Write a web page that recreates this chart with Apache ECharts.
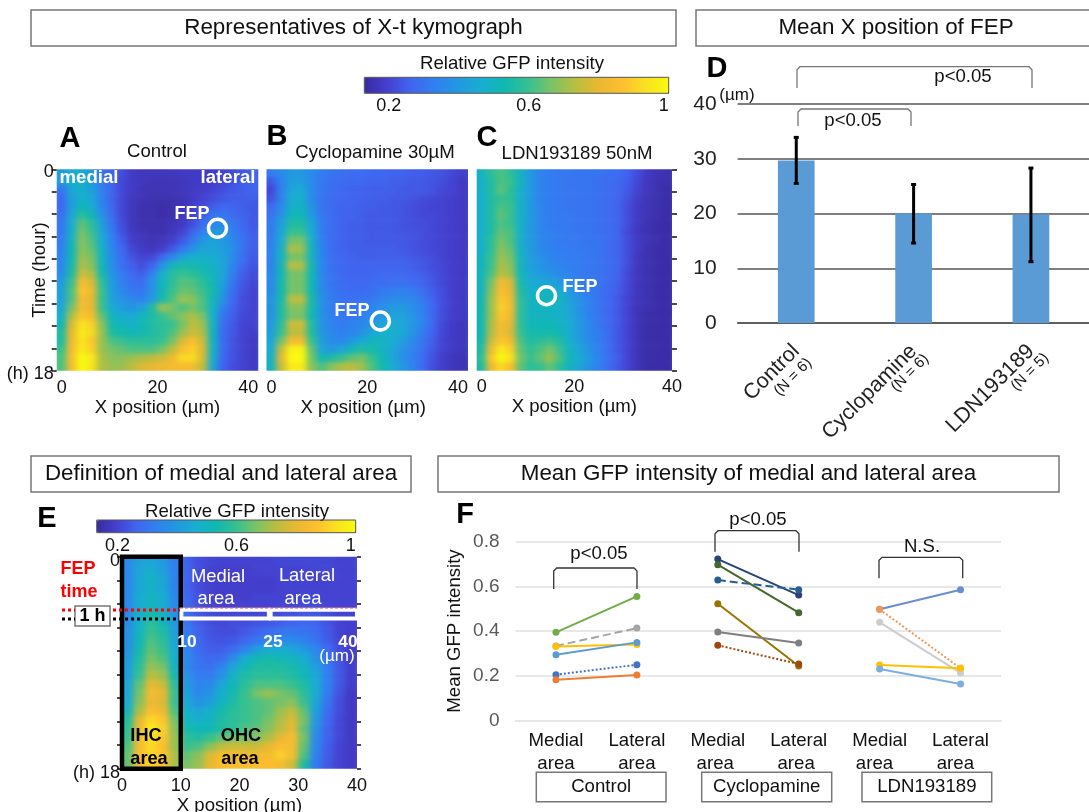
<!DOCTYPE html>
<html><head><meta charset="utf-8">
<style>html,body{margin:0;padding:0;background:#fff}
#c{width:1089px;height:812px;position:relative;z-index:0}
canvas[data-zr-dom-id="zr_-1"]{filter:url(#soft);clip-path:path("M56.7 169.3H258.3V370.7H56.7Z M266.5 169.3H468V370.7H266.5Z M476.7 169.3H672V370.7H476.7Z M122 556.7H357V768.7H122Z")}
</style>
<script src="https://cdn.jsdelivr.net/npm/echarts@6/dist/echarts.min.js"></script>
</head><body>
<svg width="0" height="0" style="position:absolute"><filter id="soft" x="0" y="0" width="100%" height="100%" color-interpolation-filters="sRGB"><feGaussianBlur stdDeviation="3 2"/></filter></svg>
<div id="c"></div>
<script>
const kymoA=[
[40,46,46,40,31,26,22,18,17,17,17,17,18,18,18,19,20,22,24,26],
[40,47,48,41,32,26,21,18,17,16,16,16,17,18,18,19,21,23,25,26],
[30,44,48,42,33,26,21,18,16,16,16,16,17,18,19,20,22,24,25,26],
[27,42,48,44,33,26,21,17,16,15,15,15,16,18,20,22,24,25,25,25],
[27,42,52,46,35,27,21,17,15,15,14,15,16,19,22,25,27,26,25,24],
[29,44,58,52,38,28,21,17,15,15,14,15,17,20,25,30,31,28,26,24],
[31,46,64,58,42,30,22,17,15,15,15,16,18,22,28,34,36,31,27,24],
[31,48,66,60,44,32,23,18,16,15,15,17,20,26,33,40,40,33,28,25],
[32,50,68,62,46,33,25,19,17,16,17,19,24,31,39,43,40,35,30,25],
[33,52,68,64,48,35,27,21,18,17,19,24,31,38,43,44,42,37,30,25],
[34,52,70,66,50,36,28,23,20,21,27,35,43,47,48,46,43,36,29,24],
[35,54,72,68,52,37,29,25,22,26,38,51,55,54,52,48,44,34,27,23],
[37,56,76,72,54,39,32,27,25,34,48,57,60,58,55,50,44,32,25,22],
[40,60,84,78,58,41,33,29,28,38,50,58,63,62,58,52,42,30,24,21],
[42,62,88,82,60,42,35,31,30,38,52,60,65,64,60,54,40,28,23,20],
[42,62,84,80,60,43,38,35,34,40,54,62,70,68,62,52,38,27,22,20],
[44,66,84,80,60,46,41,38,42,56,70,66,62,66,62,50,34,26,22,20],
[48,72,88,84,64,50,46,46,50,56,60,64,68,72,66,48,30,25,21,20],
[52,78,94,90,68,54,50,48,52,56,58,60,66,74,70,50,29,24,20,20],
[56,80,96,92,70,56,54,52,54,56,58,62,70,76,72,50,28,24,20,19],
[56,82,94,88,70,62,60,58,58,58,60,66,78,86,76,50,28,23,20,18],
[60,84,96,90,70,66,64,62,62,62,66,74,86,90,78,50,28,23,20,18],
[62,86,100,96,72,68,68,70,72,74,76,82,92,92,78,48,27,23,20,18],
[62,84,100,94,72,70,70,74,78,80,82,84,84,84,74,44,26,22,20,18]];
const kymoB=[
[32,36,40,40,36,32,30,29,28,28,27,27,26,26,25,25,24,23,21,19],
[24,34,42,42,36,31,29,28,27,27,26,26,25,25,24,24,23,22,20,18],
[21,34,44,46,36,31,28,27,26,26,25,25,25,24,24,24,23,21,20,18],
[23,34,46,48,36,30,28,27,26,26,25,25,24,24,23,22,21,20,19,18],
[28,36,48,50,38,30,28,26,26,25,25,24,24,23,22,21,20,20,19,18],
[30,38,52,52,40,31,28,26,26,25,24,24,24,23,22,21,21,20,19,18],
[32,42,56,56,44,32,28,26,25,25,24,24,24,23,22,22,21,20,19,18],
[32,44,60,60,46,32,28,26,25,25,24,24,24,23,23,22,21,20,19,18],
[33,46,66,66,48,33,28,26,25,25,24,24,24,24,23,22,21,20,19,18],
[33,48,72,70,50,34,28,26,25,25,25,25,25,24,23,22,21,20,19,18],
[34,50,66,66,50,34,29,27,26,25,25,25,25,25,24,23,22,20,19,18],
[34,52,74,72,52,35,29,27,26,26,26,26,26,26,25,24,22,21,19,18],
[36,52,66,66,52,35,30,27,26,26,26,27,27,27,26,25,23,21,19,18],
[36,54,66,66,52,36,30,28,27,27,28,28,29,29,28,26,24,21,19,18],
[36,54,66,66,52,36,31,29,28,28,29,31,32,33,32,29,25,22,19,18],
[38,54,74,74,54,38,32,30,29,30,31,34,36,36,35,31,26,22,19,18],
[38,56,68,68,54,38,32,30,30,31,34,37,40,40,37,33,27,22,19,18],
[38,56,66,66,52,38,33,31,31,33,36,40,43,43,39,34,27,22,19,18],
[40,58,76,76,56,39,34,32,33,35,39,44,46,44,40,34,27,21,18,17],
[42,60,74,74,56,40,35,33,35,38,44,48,48,44,38,32,26,21,18,17],
[44,66,84,84,60,42,36,36,40,46,50,50,46,42,36,30,25,20,18,17],
[46,76,98,98,64,44,40,44,52,56,54,50,44,38,34,29,24,20,18,17],
[48,80,100,100,66,52,56,60,64,66,60,52,44,38,33,28,23,19,17,16],
[50,76,96,96,68,62,68,72,74,70,62,54,46,40,34,28,22,19,17,16]];
const kymoC=[
[50,58,62,58,50,40,34,32,31,31,30,30,30,29,28,26,22,18,16,15],
[48,56,62,60,50,40,34,32,31,30,30,30,29,28,27,25,21,17,15,15],
[48,56,64,58,48,40,34,32,31,30,30,30,29,28,27,24,20,17,15,14],
[48,56,60,58,48,40,34,32,31,30,30,30,29,28,26,23,19,16,15,14],
[48,56,62,60,48,40,35,32,31,30,30,30,29,28,26,22,18,16,15,14],
[48,56,64,60,48,40,35,32,31,31,30,30,29,28,26,22,18,16,15,14],
[48,56,62,60,48,40,35,32,31,31,30,30,29,28,26,22,18,15,14,14],
[48,56,64,62,48,40,35,33,32,31,30,30,29,28,26,21,17,15,14,14],
[48,58,66,62,48,40,36,33,32,31,31,30,30,28,26,22,18,16,15,14],
[48,58,68,64,48,41,36,34,32,32,31,31,30,28,26,22,18,15,14,14],
[50,60,70,66,50,42,38,35,33,32,32,31,30,28,26,22,17,15,14,14],
[50,60,72,68,50,42,39,36,34,33,32,31,30,28,26,22,17,15,14,14],
[50,62,74,70,52,44,41,39,36,34,32,31,30,28,26,21,17,15,14,14],
[50,66,84,78,54,46,44,43,40,36,33,31,30,28,25,21,17,15,14,14],
[50,68,86,80,56,48,48,50,46,40,35,32,30,27,25,21,17,15,14,14],
[52,70,88,82,58,50,50,52,50,42,38,33,30,27,24,20,17,15,14,14],
[52,70,90,84,58,50,50,50,48,44,38,34,30,27,24,20,16,15,14,14],
[52,70,88,82,58,50,50,50,48,44,39,34,31,27,24,20,16,14,14,14],
[52,72,84,80,58,52,52,52,50,46,40,35,31,27,24,20,16,14,14,14],
[52,72,84,78,60,54,54,54,52,46,40,36,32,28,24,20,16,14,14,14],
[54,76,88,84,62,56,58,60,56,48,42,36,32,28,24,20,16,14,14,14],
[56,82,96,90,64,58,62,66,60,50,44,38,33,28,24,20,16,14,14,14],
[58,88,100,94,66,60,64,70,62,52,46,40,34,29,25,20,16,14,14,14],
[56,82,92,86,64,58,60,64,58,50,44,38,33,28,24,20,16,14,14,14]];
const kymoE=[
[36,42,44,40,32,26,22,21,20,20,20,20,20,21,21,21,21,21,20,20],
[36,44,46,42,33,26,22,20,19,19,19,20,20,20,20,20,21,21,20,20],
[35,44,50,44,34,26,22,20,19,19,19,19,19,20,20,20,20,20,20,20],
[35,44,48,44,34,26,22,20,19,19,19,19,19,20,20,20,20,20,20,20],
[35,46,50,46,36,27,23,20,19,19,19,20,20,20,20,21,21,20,20,20],
[35,46,50,46,36,28,23,21,20,20,20,20,20,21,21,22,22,21,20,20],
[36,48,54,50,38,29,24,22,21,21,21,21,22,22,23,24,24,22,20,20],
[36,48,58,52,40,30,25,22,21,22,22,23,24,25,26,27,26,23,20,19],
[38,50,60,56,42,32,26,23,22,22,24,26,28,30,31,30,28,24,20,19],
[38,52,62,58,44,33,27,24,23,24,27,31,35,36,36,34,30,25,21,19],
[38,54,64,60,46,35,28,25,25,28,34,42,46,46,44,40,35,28,22,19],
[40,56,66,62,48,36,30,27,28,36,46,52,54,52,50,46,38,30,23,19],
[42,58,70,66,50,36,30,29,34,44,52,56,56,56,54,50,42,32,24,19],
[42,60,74,70,54,38,32,32,38,50,56,58,58,58,56,52,44,33,24,19],
[44,64,80,76,58,40,34,36,44,52,58,62,62,62,60,56,46,33,24,19],
[44,66,84,80,60,42,36,38,48,54,60,66,70,66,64,58,46,32,23,18],
[46,68,82,78,60,44,38,42,50,56,60,62,64,66,68,60,44,30,22,18],
[50,72,86,82,62,48,44,48,54,58,60,62,64,70,74,64,42,28,22,18],
[56,80,92,88,66,50,48,50,56,58,60,62,66,72,78,66,40,27,21,18],
[58,82,96,90,68,54,52,52,56,58,62,64,68,74,80,64,38,26,21,18],
[60,84,94,88,70,58,56,60,64,66,66,68,72,80,84,66,36,26,21,18],
[62,84,92,86,70,60,62,68,74,76,76,76,80,86,84,64,36,25,20,18],
[64,86,92,88,72,64,68,78,84,84,82,82,84,90,84,62,34,25,20,18],
[64,84,90,86,72,66,70,80,86,86,86,86,86,84,76,56,32,24,20,18]];

const fepA=[31.9,5.27], fepB=[22.6,13.56], fepC=[14.3,11.3];
const barCats=['Control','Cyclopamine','LDN193189'];
const barMeans=[29.7,20.0,19.8];
const barLow=[25.5,14.6,11.2];
const barHigh=[33.9,25.3,28.3];
const areaCats=['Medial\narea','Lateral\narea','Medial\narea ','Lateral\narea ','Medial\narea  ','Lateral\narea  '];
const fControl=[[.394,.555],[.333,.413],[.331,.340],[.294,.349],[.204,.249],[.182,.203]];
const fCyclo=[[.722,.561],[.697,.482],[.628,.585],[.522,.243],[.396,.346],[.336,.252]];
const fLdn=[[.497,.585],[.497,.233],[.439,.212],[.248,.233],[.230,.163]];
const fControlColors=['#70AD47','#A5A5A5','#FFC000','#5B9BD5','#4472C4','#ED7D31'];
const fCycloColors=['#264478','#43682B','#255E91','#997300','#7F7F7F','#9E480E'];
const fLdnColors=['#698ED0','#F1975A','#CCCCCC','#FFC000','#7CAFDD'];
const fControlDash=['solid','dashed','solid','solid','dotted','solid'];
const fCycloDash=['solid','solid','dashed','solid','solid','dotted'];
const fLdnDash=['solid','dotted','solid','solid','solid'];
const roiE=[[0,10,0,18,'#000',4.5],[10.1,25,4.5,5.25,'#fff',4],[25.3,40,4.5,5.25,'#fff',4]];
const parula=['#3A2AA0','#4440D0','#4066F0','#3080F0','#2298E0','#18AED0','#10B8B0','#35C090','#7CC265','#B8BE40','#E8B832','#FDBE30','#F9E020','#F8FA10'];

const FONT='"Liberation Sans"';
const xCols=kymoA[0].map((_,i)=>String(2*i+1));
const yRows=kymoA.map((_,i)=>String(i));
const grids=[],xAxes=[],yAxes=[],series=[],edgeSeries=[];
function cells(m){const d=[];m.forEach((r,y)=>r.forEach((v,x)=>d.push([x,y,v/100])));return d;}
const lab={color:'#111',fontFamily:FONT,fontSize:18};
function panel(g,m,opt){
  const gi=grids.length;grids.push(Object.assign({outerBoundsMode:'none'},g));
  const xc=xAxes.length,yc=yAxes.length;
  xAxes.push({type:'category',gridIndex:gi,data:xCols,show:false,boundaryGap:true});
  yAxes.push({type:'category',gridIndex:gi,data:yRows,show:false,inverse:true,boundaryGap:true});
  xAxes.push({type:'value',gridIndex:gi,min:0,max:40,interval:opt.xi||20,position:'bottom',
    axisLine:{show:false},axisTick:{show:false},splitLine:{show:false},
    axisLabel:Object.assign({margin:opt.xm||8,alignMinLabel:opt.minA,alignMaxLabel:opt.maxA},lab),
    name:'X position (µm)',nameLocation:'middle',nameGap:opt.ng||28,nameMoveOverlap:false,
    nameTextStyle:{color:'#111',fontFamily:FONT,fontSize:18.6,padding:opt.np||0}});
  yAxes.push({type:'value',gridIndex:gi,min:0,max:18,interval:2,inverse:true,position:opt.yp||'left',show:opt.yshow!==false,
    axisLine:{show:false},axisTick:{show:opt.yshow!==false,length:5,lineStyle:{color:'#111',width:1.5}},splitLine:{show:false},
    axisLabel:{show:!!opt.ylab,margin:opt.ym||3,color:'#111',fontFamily:FONT,fontSize:18,verticalAlign:'top',lineHeight:opt.ylh||6,
      formatter:v=>v===0?'0':(v===18?'(h) 18':'')},
    name:opt.yname||'',nameLocation:'middle',nameGap:7,nameRotate:90,nameMoveOverlap:false,
    nameTextStyle:{color:'#111',fontFamily:FONT,fontSize:18.6}});
  const data=cells(m);
  series.push({type:'heatmap',xAxisIndex:xc,yAxisIndex:yc,data,progressive:0,z:3,zlevel:-1});
  // border cells repeated outward so the soft rendering keeps a clean panel edge
  const nx=m[0].length,ny=m.length;
  edgeSeries.push({type:'custom',xAxisIndex:xc,yAxisIndex:yc,z:2,zlevel:-1,clip:false,silent:true,
    data:data.filter(d=>d[0]===0||d[1]===0||d[0]===nx-1||d[1]===ny-1),
    renderItem(params,api){
      const c=api.coord([api.value(0),api.value(1)]),s=api.size([1,1]),pad=5;
      const x0=c[0]-s[0]/2-(api.value(0)===0?pad:0),x1=c[0]+s[0]/2+(api.value(0)===nx-1?pad:0);
      const y0=c[1]-s[1]/2-(api.value(1)===0?pad:0),y1=c[1]+s[1]/2+(api.value(1)===ny-1?pad:0);
      return {type:'rect',shape:{x:x0,y:y0,width:x1-x0,height:y1-y0},style:{fill:api.visual('color')}};
    }});
  return {xv:xc+1,yv:yc+1};
}
const pa=panel({left:56.7,top:169.3,width:201.6,height:201.4},kymoA,{ylab:true,yname:'Time (hour)',minA:'left',maxA:'right'});
const pb=panel({left:266.5,top:169.3,width:201.5,height:201.4},kymoB,{yshow:false,minA:'left',maxA:'right',np:[0,8,0,0]});
const pc=panel({left:476.7,top:169.3,width:195.3,height:201.4},kymoC,{yp:'right',xm:7,ng:27,minA:'left'});
const pe=panel({left:122,top:556.7,width:235,height:212},kymoE,{xi:10,ylab:true,ylh:8,ym:2,xm:8,ng:28});
series.push(...edgeSeries);
// right-hand ticks of E
yAxes.push({type:'value',gridIndex:3,min:0,max:18,interval:2,inverse:true,position:'right',
  axisLine:{show:false},axisTick:{inside:false,length:4,lineStyle:{color:'#111',width:1.5}},axisLabel:{show:false},splitLine:{show:false}});
[[pa,fepA],[pb,fepB],[pc,fepC]].forEach(([p,f])=>series.push({type:'scatter',xAxisIndex:p.xv,yAxisIndex:p.yv,data:[f],
  symbolSize:18,z:5,itemStyle:{color:'rgba(0,0,0,0)',borderColor:'#fff',borderWidth:3.5,opacity:1}}));
series.push({type:'custom',xAxisIndex:pe.xv,yAxisIndex:pe.yv,data:roiE.map(r=>r.slice(0,4)),z:6,clip:false,
  renderItem(params,api){
    const a=api.coord([api.value(0),api.value(2)]),b=api.coord([api.value(1),api.value(3)]);
    const r=roiE[params.dataIndex];
    return {type:'rect',shape:{x:a[0],y:a[1],width:b[0]-a[0],height:b[1]-a[1]},style:{fill:'none',stroke:r[4],lineWidth:r[5]}};
  }});

// colour-bar axes
function cbar(g){
  const gi=grids.length;grids.push(Object.assign({outerBoundsMode:'none'},g));
  xAxes.push({type:'value',gridIndex:gi,min:.13,max:1,position:'bottom',
    axisLine:{show:false},splitLine:{show:false},
    axisTick:{inside:true,length:2,lineStyle:{color:'#444',width:1},customValues:[.2,.3,.4,.5,.6,.7,.8,.9,1]},
    axisLabel:{margin:4,alignMaxLabel:'right',color:'#111',fontFamily:FONT,fontSize:18,customValues:[.2,.6,1],formatter:v=>String(v)}});
  yAxes.push({type:'value',gridIndex:gi,min:0,max:1,show:false});
}
cbar({left:364.3,top:77.3,width:304.4,height:16});
cbar({left:96.7,top:520,width:259,height:12.7});

// D
const giD=grids.length;grids.push({outerBoundsMode:'none',left:737.6,top:104,width:352,height:219});
const xD=xAxes.length,yD=yAxes.length;
xAxes.push({type:'category',gridIndex:giD,data:barCats,axisTick:{show:false},axisLine:{lineStyle:{color:'#555',width:1.5}},
  axisLabel:{interval:0,rotate:45,margin:25,color:'#222',fontFamily:FONT,fontSize:21.5}});
yAxes.push({type:'value',gridIndex:giD,min:0,max:40,interval:10,axisLine:{show:false},axisTick:{show:false},
  splitLine:{lineStyle:{color:'#555',width:1.5}},axisLabel:{margin:21,color:'#222',fontFamily:FONT,fontSize:21}});
series.push({type:'bar',xAxisIndex:xD,yAxisIndex:yD,data:barMeans,barWidth:36.7,itemStyle:{color:'#5B9BD5'},z:3});
series.push({type:'custom',xAxisIndex:xD,yAxisIndex:yD,z:5,data:barCats.map((c,i)=>[i,barLow[i],barHigh[i]]),
  renderItem(params,api){
    const lo=api.coord([api.value(0),api.value(1)]),hi=api.coord([api.value(0),api.value(2)]);
    const st={stroke:'#000',lineWidth:3,fill:'none'};
    return {type:'group',children:[
      {type:'line',shape:{x1:lo[0],y1:lo[1],x2:hi[0],y2:hi[1]},style:st},
      {type:'line',shape:{x1:lo[0]-2.5,y1:lo[1],x2:lo[0]+2.5,y2:lo[1]},style:st},
      {type:'line',shape:{x1:hi[0]-2.5,y1:hi[1],x2:hi[0]+2.5,y2:hi[1]},style:st}]};
  }});

// F
const giF=grids.length;grids.push({outerBoundsMode:'none',left:515.5,top:541.7,width:485.5,height:178.6});
const xF=xAxes.length,yF=yAxes.length;
xAxes.push({type:'category',gridIndex:giF,data:areaCats,axisTick:{show:false},axisLine:{lineStyle:{color:'#E6E6E6',width:2}},
  axisLabel:{interval:0,margin:9,color:'#111',fontFamily:FONT,fontSize:18.6,lineHeight:23}});
yAxes.push({type:'value',gridIndex:giF,min:0,max:.8,interval:.2,axisLine:{show:false},axisTick:{show:false},
  splitLine:{lineStyle:{color:'#E8E8E8',width:2}},axisLabel:{margin:16,color:'#595959',fontFamily:FONT,fontSize:19,formatter:v=>v===0?'0':v.toFixed(1)},
  name:'Mean GFP intensity',nameLocation:'middle',nameGap:51,nameRotate:90,nameMoveOverlap:false,nameTextStyle:{color:'#111',fontFamily:FONT,fontSize:18.6}});
function addLines(list,colors,dash,off){
  list.forEach((v,i)=>{
    const d=[null,null,null,null,null,null];d[off]=v[0];d[off+1]=v[1];
    series.push({type:'line',xAxisIndex:xF,yAxisIndex:yF,data:d,symbol:'circle',symbolSize:7,z:4,connectNulls:false,
      lineStyle:{color:colors[i],width:2,type:dash[i]},itemStyle:{color:colors[i]}});
  });
}
addLines(fControl,fControlColors,fControlDash,0);
addLines(fCyclo,fCycloColors,fCycloDash,2);
addLines(fLdn,fLdnColors,fLdnDash,4);

// annotations
const G=[];
function T(text,x,y,size,o={}){G.push({type:'text',z:100,x,y,rotation:o.rot||0,style:{text,x:0,y:0,align:o.align||'center',verticalAlign:'middle',
  fill:o.color||'#111',font:(o.bold?'bold ':'')+size+'px '+FONT}});}
function Box(x0,y0,x1,y1,text,size,o={}){
  G.push({type:'rect',z:99,shape:{x:x0,y:y0,width:x1-x0,height:y1-y0},style:{fill:o.fill||'#fff',stroke:o.stroke||'#777',lineWidth:1.5}});
  if(text)T(text,(x0+x1)/2,(y0+y1)/2,size,o);
}
function Brk(x0,x1,top,bot,color){
  G.push({type:'polyline',z:100,shape:{points:[[x0,bot],[x0,top+3],[x0+3,top],[x1-3,top],[x1,top+3],[x1,bot]]},style:{fill:'none',stroke:color,lineWidth:1.3}});
}
function L(x0,y,x1,color,w,dash){G.push({type:'line',z:101,shape:{x1:x0,y1:y,x2:x1,y2:y},style:{stroke:color,lineWidth:w,lineDash:dash}});}

Box(31,10,676,46,'Representatives of X-t kymograph',22.4);
Box(696,10,1095,46,null,21);T('Mean X position of FEP',896,28,22.4);
Box(31,456,411,492,'Definition of medial and lateral area',22.4);
Box(438,456,1059,492,'Mean GFP intensity of medial and lateral area',22.4);
[['A',70,139],['B',277,137],['C',487,138],['D',717,69],['E',47,519],['F',465,515]].forEach(a=>T(a[0],a[1],a[2],29,{bold:true,color:'#000'}));
T('Relative GFP intensity',512,64,18.6);
T('Relative GFP intensity',237,512,18.6);
G.push({type:'rect',z:100,shape:{x:364.3,y:77.3,width:304.4,height:16},style:{fill:'none',stroke:'#555',lineWidth:1}});
G.push({type:'rect',z:100,shape:{x:96.7,y:520,width:259,height:12.7},style:{fill:'none',stroke:'#555',lineWidth:1}});
T('Control',157,152,18.6);T('Cyclopamine 30µM',375,153,18.6);T('LDN193189 50nM',577,154,18.6);
T('medial',89,178,18.6,{bold:true,color:'#fff'});T('lateral',228,178,18.6,{bold:true,color:'#fff'});
T('FEP',192,214,18,{bold:true,color:'#fff'});T('FEP',352,311,18,{bold:true,color:'#fff'});T('FEP',580,287,18,{bold:true,color:'#fff'});
// D
T('(µm)',737,95,17);
Brk(797,1032,66.7,88,'#777');T('p<0.05',963,77,18.6);
Brk(798,911,109,126,'#777');T('p<0.05',853,121,18.6);
T('(N = 6)',793,377,15,{rot:Math.PI/4});T('(N = 6)',910,373,15,{rot:Math.PI/4});T('(N = 5)',1030,372,15,{rot:Math.PI/4});
// E
T('FEP',78,569,18,{bold:true,color:'#f00'});T('time',79,592,18,{bold:true,color:'#f00'});
L(62,610,75,'#f00',3,[3,3]);L(113,610,180,'#f00',3,[3,3]);L(180,608,357,'#f44',1,[3,2]);
L(62,619,75,'#000',3,[3,3]);L(113,619,178,'#000',3,[3,3]);
Box(75,606,110,626,'1 h',18,{bold:true,color:'#000'});
T('Medial',218,577,18.4,{color:'#fff'});T('area',216,599,18.4,{color:'#fff'});
T('Lateral',307,576,18.4,{color:'#fff'});T('area',303,599,18.4,{color:'#fff'});
T('10',187,642,17.4,{bold:true,color:'#fff'});T('25',273,642,17.4,{bold:true,color:'#fff'});T('40',348,642,17.4,{bold:true,color:'#fff'});
T('(µm)',337,656,17,{color:'#fff'});
T('IHC',146,736,18.2,{bold:true,color:'#000'});T('area',149,759,18.2,{bold:true,color:'#000'});
T('OHC',241,736,18.2,{bold:true,color:'#000'});T('area',240,759,18.2,{bold:true,color:'#000'});
// F
Brk(553.7,637,568,589,'#333');T('p<0.05',599,554,18.6);
Brk(715,799,530.7,551.7,'#333');T('p<0.05',758,520,18.6);
Brk(879,962.7,557.3,578.3,'#333');T('N.S.',922,547,18.6);
Box(536.3,772.3,666,801.7,'Control',18.6);
Box(701.7,772.3,831.7,801.7,'Cyclopamine',18.6);
Box(862,772.3,991.7,801.7,'LDN193189',18.6);

const chart=echarts.init(document.getElementById('c'),null,{renderer:'canvas'});
chart.setOption({
  animation:false,backgroundColor:'#fff',textStyle:{fontFamily:FONT},
  grid:grids,xAxis:xAxes,yAxis:yAxes,series,
  visualMap:[
    {type:'continuous',seriesIndex:[0,1,2,4,5,6],dimension:2,min:.13,max:1,calculable:false,orient:'horizontal',left:364.3,top:77.3,itemWidth:16,itemHeight:304.4,padding:0,text:null,showLabel:false,inRange:{color:parula}},
    {type:'continuous',seriesIndex:[3,7],dimension:2,min:.13,max:1,calculable:false,orient:'horizontal',left:96.7,top:520,itemWidth:12.7,itemHeight:259,padding:0,text:null,showLabel:false,inRange:{color:parula}}
  ],
  graphic:{elements:G}
});
</script></body></html>
